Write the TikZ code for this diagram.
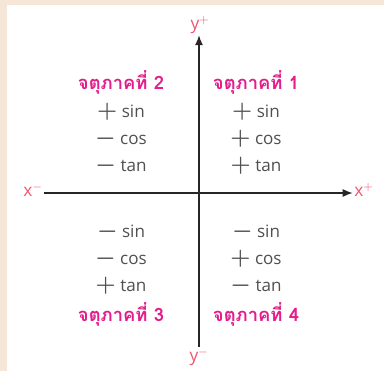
\documentclass[tikz,border=0pt]{standalone}
\usepackage{fontspec}
\setmainfont{Open Sans}
\newfontfamily\thaifont[Script=Thai]{Loma}
\usetikzlibrary{arrows.meta,positioning}

\definecolor{quadpink}{RGB}{228,28,140}
\definecolor{axispink}{RGB}{240,86,112}
\definecolor{rowgray}{RGB}{80,80,80}
\definecolor{paperbg}{RGB}{246,230,216}

\newcommand{\sgnplus}{{\fontsize{17}{17}\selectfont$\boldsymbol{+}$}}
\newcommand{\sgnminus}{{\fontsize{17}{17}\selectfont$\boldsymbol{-}$}}
\usepackage{amsmath,amssymb,bm}
\renewcommand{\boldsymbol}[1]{\bm{#1}}

\begin{document}
\begin{tikzpicture}[
    x=0.75pt, y=-0.75pt,
    node distance=4.4pt,
    axis_line/.style={line width=1.1pt, draw=black!85, -{Latex[length=7.5pt,width=6pt]}},
    axis_label/.style={text=axispink, inner sep=1pt, font=\fontsize{13}{14}\selectfont},
    quad_title/.style={text=quadpink, inner sep=2pt, text height=11pt, text depth=3pt,
        font=\thaifont\bfseries\fontsize{13.8}{15}\selectfont},
    trig_row/.style={text=rowgray, inner sep=2pt, text height=9pt, text depth=2.6pt,
        font=\fontsize{12.8}{14}\selectfont}
]
% paper and white panel
\fill[paperbg] (0,0) rectangle (384,371);
\fill[white] (7,5) rectangle (384,371);
\useasboundingbox (0,0) rectangle (384,371);

% axes
\node[axis_label] (xminus) at (33,190) {x$^{-}$};
\node[axis_label] (xplus) at (364,190) {x$^{+}$};
\node[axis_label] (yplus) at (200,25) {y$^{+}$};
\node[axis_label] (yminus) at (199,357) {y$^{-}$};
\draw[axis_line] (xminus.east |- 0,193) -- (xplus.west |- 0,193);
\draw[axis_line] (199,0 |- yminus.north) -- (199,0 |- yplus.south);

% quadrant 2
\node[quad_title] (q2) at (121,84) {จตุภาคที่ 2};
\node[trig_row, below=of q2] (q2sin) {\sgnplus\ sin};
\node[trig_row, below=of q2sin] (q2cos) {\sgnminus\ cos};
\node[trig_row, below=of q2cos] (q2tan) {\sgnminus\ tan};

% quadrant 1
\node[quad_title] (q1) at (256,84) {จตุภาคที่ 1};
\node[trig_row, below=of q1] (q1sin) {\sgnplus\ sin};
\node[trig_row, below=of q1sin] (q1cos) {\sgnplus\ cos};
\node[trig_row, below=of q1cos] (q1tan) {\sgnplus\ tan};

% quadrant 3
\node[trig_row] (q3sin) at (121,233) {\sgnminus\ sin};
\node[trig_row, below=of q3sin] (q3cos) {\sgnminus\ cos};
\node[trig_row, below=of q3cos] (q3tan) {\sgnplus\ tan};
\node[quad_title, below=of q3tan] (q3) {จตุภาคที่ 3};

% quadrant 4
\node[trig_row] (q4sin) at (256,233) {\sgnminus\ sin};
\node[trig_row, below=of q4sin] (q4cos) {\sgnplus\ cos};
\node[trig_row, below=of q4cos] (q4tan) {\sgnminus\ tan};
\node[quad_title, below=of q4tan] (q4) {จตุภาคที่ 4};

\end{tikzpicture}
\end{document}
